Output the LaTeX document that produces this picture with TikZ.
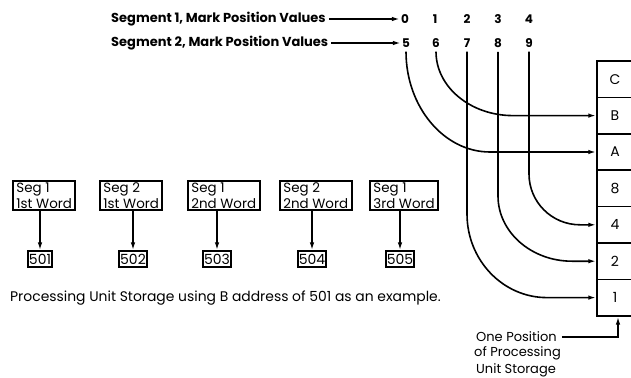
\documentclass[tikz,border=0pt]{standalone}
\usepackage{fontspec}
\setmainfont{Poppins}
\usetikzlibrary{arrows.meta}
\begin{document}
\begin{tikzpicture}[x=1pt,y=-1pt,
  conn/.style={line width=1.6pt},
  tip/.style={-{Latex[length=8pt,width=4.5pt]}},
  segbox/.style={draw,line width=1.9pt,align=left,inner xsep=3.5pt,inner ysep=1pt,font=\fontsize{13.4}{16.5}\selectfont,anchor=west},
  numbox/.style={draw,line width=1.9pt,inner xsep=1.2pt,inner ysep=2.5pt,font=\fontsize{14}{15}\selectfont},
  cell/.style={draw,line width=1.5pt,minimum width=36pt,minimum height=36.4pt,inner sep=0pt,font=\fontsize{14}{15}\selectfont},
  digit/.style={inner sep=1pt,font=\bfseries\fontsize{12}{13}\selectfont},
  lbl/.style={font=\bfseries\fontsize{13}{14}\selectfont,anchor=west,inner sep=1pt},
  txt/.style={font=\fontsize{13.9}{15}\selectfont,anchor=west,inner sep=0pt},
  optxt/.style={font=\fontsize{13}{14}\selectfont,anchor=west,inner sep=0pt}]
\useasboundingbox (0,0) rectangle (631,377);

% top labels and digits
\node[lbl] (seg1) at (110,19) {Segment 1, Mark Position Values};
\node[lbl] (seg2) at (110,43) {Segment 2, Mark Position Values};
\node[digit] (d0) at (405,19) {0};
\node[digit] (d1) at (435,19) {1};
\node[digit] (d2) at (467,19) {2};
\node[digit] (d3) at (498,19) {3};
\node[digit] (d4) at (529,19) {4};
\node[digit] (d5) at (406,43) {5};
\node[digit] (d6) at (436,43) {6};
\node[digit] (d7) at (467,43) {7};
\node[digit] (d8) at (498,43) {8};
\node[digit] (d9) at (529,43) {9};
\draw[conn,tip] ([xshift=2pt]seg1.east) -- (d0.west);
\draw[conn,tip] ([xshift=2pt]seg2.east) -- (d5.west);

% storage column
\node[cell] (cC) at (615,79.2) {C};
\node[cell] (cB) at (615,115.6) {B};
\node[cell] (cA) at (615,152) {A};
\node[cell] (c8) at (615,188.4) {8};
\node[cell] (c4) at (615,224.8) {4};
\node[cell] (c2) at (615,261.2) {2};
\node[cell] (c1) at (615,297.6) {1};

% connectors from mark positions
\draw[conn,tip] ([yshift=-3pt]d5.south) .. controls (406,107) and (444,152) .. (490,152) -- (cA.west);
\draw[conn,tip] ([yshift=-3pt]d6.south) .. controls (436,87) and (470.5,115.6) .. (513,115.6) -- (cB.west);
\draw[conn,tip] ([yshift=-3pt]d7.south) -- (467,214) .. controls (467,260.1) and (502.8,297.6) .. (547,297.6) -- (c1.west);
\draw[conn,tip] ([yshift=-3pt]d8.south) -- (498,196) .. controls (498,232) and (531.2,261.2) .. (572,261.2) -- (c2.west);
\draw[conn,tip] ([yshift=-3pt]d9.south) -- (529,174) .. controls (529,202) and (551.8,224.8) .. (580,224.8) -- (c4.west);

% one position label
\node[optxt] (op1) at (476,337) {One Position};
\node[optxt] (op2) at (474,353) {of Processing};
\node[optxt] (op3) at (476,370) {Unit Storage};
\draw[conn,tip] ([xshift=5pt]op1.east) -| ([xshift=3pt]c1.south);

% word boxes
\node[segbox] (s1) at (12,195.5) {Seg 1\\1st Word};
\node[segbox] (s2) at (99,195.5) {Seg 2\\1st Word};
\node[segbox] (s3) at (187,195.5) {Seg 1\\2nd Word};
\node[segbox] (s4) at (279,195.5) {Seg 2\\2nd Word};
\node[segbox] (s5) at (369,195.5) {Seg 1\\3rd Word};
\node[numbox] (n1) at (40,259) {501};
\node[numbox] (n2) at (133,259) {502};
\node[numbox] (n3) at (217,259) {503};
\node[numbox] (n4) at (312,259) {504};
\node[numbox] (n5) at (400,259) {505};
\foreach \i in {1,...,5} {\draw[conn,tip] (s\i.south -| n\i) -- (n\i.north);}

\node[txt] (cap) at (10,298) {Processing Unit Storage using B address of 501 as an example.};
\end{tikzpicture}
\end{document}
